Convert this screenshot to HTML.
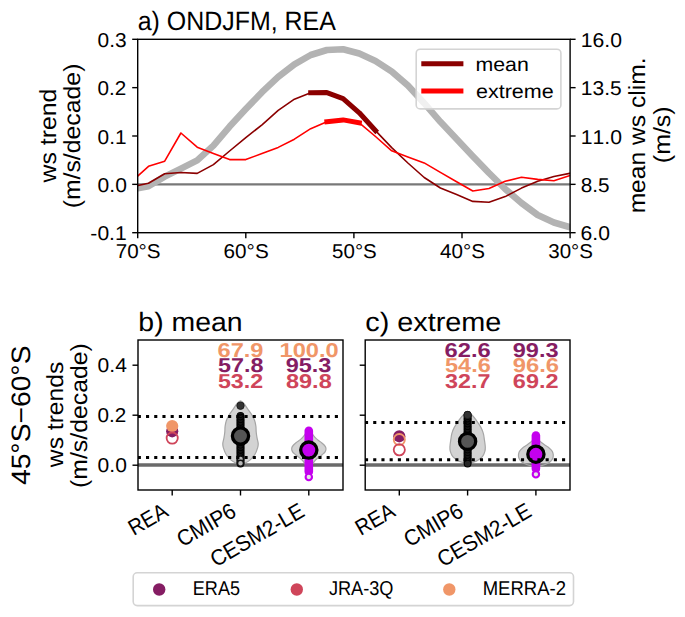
<!DOCTYPE html>
<html><head><meta charset="utf-8"><style>
html,body{margin:0;padding:0;background:#fff;overflow:hidden;}
svg{display:block;}
text{font-family:"Liberation Sans", sans-serif;font-kerning:none;text-rendering:geometricPrecision;}
</style></head><body>
<svg width="685" height="617" viewBox="0 0 685 617">
<rect x="0" y="0" width="685" height="617" fill="#fff"/>
<defs><clipPath id="ca"><rect x="137.7" y="39.3" width="432.4" height="193.4"/></clipPath></defs>
<g clip-path="url(#ca)">
<line x1="137.7" y1="184.35" x2="570.1" y2="184.35" stroke="#787878" stroke-width="2.3"/>
<polyline points="137.7,188.3 148.5,186.2 164.7,176.6 180.9,168.6 197.2,160.4 213.4,145.6 229.6,126.6 245.8,109.1 262.0,92.2 278.2,76.9 294.4,64.3 310.7,55.0 326.9,50.0 343.1,49.2 359.3,53.5 375.5,61.0 391.7,71.5 407.9,85.6 424.2,103.2 440.4,121.8 456.6,139.0 472.8,156.2 489.0,173.0 505.2,189.0 521.5,203.0 537.7,215.0 553.9,222.5 570.1,227.3" fill="none" stroke="#b3b3b3" stroke-width="6.6" stroke-linecap="square" stroke-linejoin="round"/>
<polyline points="137.7,185.5 148.5,183.3 164.7,173.8 180.9,172.5 197.2,173.4 213.4,164.6 229.6,151.0 245.8,137.6 262.0,124.8 278.2,110.4 294.4,99.2 310.7,92.7 326.9,92.6 343.1,98.6 359.3,112.8 375.5,130.6 391.7,147.6 407.9,163.0 424.2,177.5 440.4,188.0 456.6,194.6 472.8,201.4 489.0,202.2 505.2,196.6 521.5,188.1 537.7,181.3 553.9,176.5 570.1,173.3" fill="none" stroke="#8b0000" stroke-width="1.6" stroke-linejoin="round" stroke-linecap="square"/>
<polyline points="310.7,92.7 326.9,92.6 343.1,98.6 359.3,112.8 375.5,130.6" fill="none" stroke="#8b0000" stroke-width="5" stroke-linejoin="round" stroke-linecap="square"/>
<polyline points="137.7,176.0 148.5,166.3 164.7,161.2 180.9,133.0 197.2,147.2 213.4,153.6 229.6,159.6 245.8,159.6 262.0,153.5 278.2,147.4 294.4,139.2 310.7,128.7 326.9,121.8 343.1,119.9 359.3,122.8 375.5,136.5 391.7,150.8 407.9,156.9 424.2,162.9 440.4,172.4 456.6,181.8 472.8,191.0 489.0,188.5 505.2,181.3 521.5,177.3 537.7,179.4 553.9,180.8 570.1,175.4" fill="none" stroke="#ff0000" stroke-width="1.6" stroke-linejoin="round" stroke-linecap="square"/>
<polyline points="326.9,121.8 343.1,119.9 359.3,122.8" fill="none" stroke="#ff0000" stroke-width="5" stroke-linejoin="round" stroke-linecap="square"/>
</g>
<rect x="137.7" y="39.3" width="432.4" height="193.4" fill="none" stroke="#000" stroke-width="1.4"/>
<line x1="132.2" y1="39.30" x2="137.7" y2="39.30" stroke="#000" stroke-width="1.4"/>
<text x="97.63" y="46.80" font-size="19.98" textLength="29.03" lengthAdjust="spacingAndGlyphs">0.3</text>
<line x1="132.2" y1="87.65" x2="137.7" y2="87.65" stroke="#000" stroke-width="1.4"/>
<text x="97.63" y="95.15" font-size="19.98" textLength="28.75" lengthAdjust="spacingAndGlyphs">0.2</text>
<line x1="132.2" y1="136.00" x2="137.7" y2="136.00" stroke="#000" stroke-width="1.4"/>
<text x="97.63" y="143.50" font-size="19.98" textLength="28.93" lengthAdjust="spacingAndGlyphs">0.1</text>
<line x1="132.2" y1="184.35" x2="137.7" y2="184.35" stroke="#000" stroke-width="1.4"/>
<text x="97.62" y="191.85" font-size="19.98" textLength="29.24" lengthAdjust="spacingAndGlyphs">0.0</text>
<line x1="132.2" y1="232.70" x2="137.7" y2="232.70" stroke="#000" stroke-width="1.4"/>
<text x="90.39" y="240.20" font-size="19.98" textLength="36.26" lengthAdjust="spacingAndGlyphs">-0.1</text>
<line x1="570.1" y1="39.30" x2="575.6" y2="39.30" stroke="#000" stroke-width="1.4"/>
<text x="580.79" y="46.80" font-size="19.98" textLength="41.24" lengthAdjust="spacingAndGlyphs">16.0</text>
<line x1="570.1" y1="87.65" x2="575.6" y2="87.65" stroke="#000" stroke-width="1.4"/>
<text x="580.80" y="95.15" font-size="19.98" textLength="40.88" lengthAdjust="spacingAndGlyphs">13.5</text>
<line x1="570.1" y1="136.00" x2="575.6" y2="136.00" stroke="#000" stroke-width="1.4"/>
<text x="580.79" y="143.50" font-size="19.98" textLength="41.24" lengthAdjust="spacingAndGlyphs">11.0</text>
<line x1="570.1" y1="184.35" x2="575.6" y2="184.35" stroke="#000" stroke-width="1.4"/>
<text x="580.70" y="191.85" font-size="19.98" textLength="28.87" lengthAdjust="spacingAndGlyphs">8.5</text>
<line x1="570.1" y1="232.70" x2="575.6" y2="232.70" stroke="#000" stroke-width="1.4"/>
<text x="580.53" y="240.20" font-size="19.98" textLength="29.40" lengthAdjust="spacingAndGlyphs">6.0</text>
<line x1="137.70" y1="232.7" x2="137.70" y2="238.2" stroke="#000" stroke-width="1.4"/>
<text x="115.70" y="257.80" font-size="19.98" textLength="44.90" lengthAdjust="spacingAndGlyphs">70°S</text>
<line x1="245.80" y1="232.7" x2="245.80" y2="238.2" stroke="#000" stroke-width="1.4"/>
<text x="223.60" y="257.80" font-size="19.98" textLength="45.10" lengthAdjust="spacingAndGlyphs">60°S</text>
<line x1="353.90" y1="232.7" x2="353.90" y2="238.2" stroke="#000" stroke-width="1.4"/>
<text x="332.13" y="257.80" font-size="19.98" textLength="44.66" lengthAdjust="spacingAndGlyphs">50°S</text>
<line x1="462.00" y1="232.7" x2="462.00" y2="238.2" stroke="#000" stroke-width="1.4"/>
<text x="439.98" y="257.80" font-size="19.98" textLength="44.92" lengthAdjust="spacingAndGlyphs">40°S</text>
<line x1="570.10" y1="232.7" x2="570.10" y2="238.2" stroke="#000" stroke-width="1.4"/>
<text x="548.27" y="257.80" font-size="19.98" textLength="44.72" lengthAdjust="spacingAndGlyphs">30°S</text>
<text x="137.74" y="30.00" font-size="26.60" textLength="198.11" lengthAdjust="spacingAndGlyphs">a) ONDJFM, REA</text>
<text transform="rotate(-90)" x="-182.46" y="55.90" font-size="23.31" textLength="93.76" lengthAdjust="spacingAndGlyphs">ws trend</text>
<text transform="rotate(-90)" x="-208.39" y="80.20" font-size="23.31" textLength="144.78" lengthAdjust="spacingAndGlyphs">(m/s/decade)</text>
<text transform="rotate(-90)" x="-213.38" y="645.00" font-size="23.31" textLength="155.88" lengthAdjust="spacingAndGlyphs">mean ws clim.</text>
<text transform="rotate(-90)" x="-163.15" y="669.50" font-size="23.31" textLength="56.79" lengthAdjust="spacingAndGlyphs">(m/s)</text>
<rect x="416.2" y="49.2" width="144.7" height="59.7" rx="4" fill="#fff" fill-opacity="0.8" stroke="#d4d4d4" stroke-width="1.6"/>
<line x1="421.3" y1="63.7" x2="463.4" y2="63.7" stroke="#8b0000" stroke-width="5"/>
<line x1="421.3" y1="91.1" x2="463.4" y2="91.1" stroke="#ff0000" stroke-width="5"/>
<text x="475.49" y="70.60" font-size="19.52" textLength="53.30" lengthAdjust="spacingAndGlyphs">mean</text>
<text x="475.99" y="97.60" font-size="19.61" textLength="77.77" lengthAdjust="spacingAndGlyphs">extreme</text>
<defs><clipPath id="c138"><rect x="138.0" y="340" width="205.0" height="150"/></clipPath></defs>
<g clip-path="url(#c138)">
<line x1="138.0" y1="465.0" x2="343.0" y2="465.0" stroke="#6a6a6a" stroke-width="3.3"/>
<path d="M240.50,400.80 C239.33,400.80 238.23,402.27 237.00,403.70 C235.77,405.13 234.42,407.52 233.10,409.40 C231.78,411.28 230.23,413.12 229.10,415.00 C227.97,416.88 226.97,418.80 226.30,420.70 C225.63,422.60 225.35,424.52 225.10,426.40 C224.85,428.28 224.98,430.12 224.80,432.00 C224.62,433.88 224.33,435.80 224.00,437.70 C223.67,439.60 222.90,441.70 222.80,443.40 C222.70,445.10 222.82,446.00 223.40,447.90 C223.98,449.80 225.07,452.80 226.30,454.80 C227.53,456.80 229.30,458.58 230.80,459.90 C232.30,461.22 233.68,461.98 235.30,462.70 C236.92,463.42 238.77,464.20 240.50,464.20 C242.23,464.20 244.08,463.42 245.70,462.70 C247.32,461.98 248.70,461.22 250.20,459.90 C251.70,458.58 253.47,456.80 254.70,454.80 C255.93,452.80 257.02,449.80 257.60,447.90 C258.18,446.00 258.30,445.10 258.20,443.40 C258.10,441.70 257.33,439.60 257.00,437.70 C256.67,435.80 256.38,433.88 256.20,432.00 C256.02,430.12 256.15,428.28 255.90,426.40 C255.65,424.52 255.37,422.60 254.70,420.70 C254.03,418.80 253.03,416.88 251.90,415.00 C250.77,413.12 249.22,411.28 247.90,409.40 C246.58,407.52 245.23,405.13 244.00,403.70 C242.77,402.27 241.67,400.80 240.50,400.80Z" fill="#888888" fill-opacity="0.37" stroke="#a6a6a6" stroke-width="1.2"/>
<path d="M308.83,429.50 C307.97,429.50 306.98,431.53 306.23,432.50 C305.48,433.47 305.18,434.23 304.33,435.30 C303.48,436.37 302.33,437.80 301.13,438.90 C299.93,440.00 298.40,440.88 297.13,441.90 C295.87,442.92 294.43,443.97 293.53,445.00 C292.63,446.03 291.92,447.00 291.73,448.10 C291.55,449.20 291.80,450.50 292.43,451.60 C293.07,452.70 294.25,453.58 295.53,454.70 C296.82,455.82 298.85,457.20 300.13,458.30 C301.42,459.40 302.38,460.32 303.23,461.30 C304.08,462.28 304.30,463.22 305.23,464.20 C306.17,465.18 307.63,467.20 308.83,467.20 C310.03,467.20 311.50,465.18 312.43,464.20 C313.37,463.22 313.58,462.28 314.43,461.30 C315.28,460.32 316.25,459.40 317.53,458.30 C318.82,457.20 320.85,455.82 322.13,454.70 C323.42,453.58 324.60,452.70 325.23,451.60 C325.87,450.50 326.12,449.20 325.93,448.10 C325.75,447.00 325.03,446.03 324.13,445.00 C323.23,443.97 321.80,442.92 320.53,441.90 C319.27,440.88 317.73,440.00 316.53,438.90 C315.33,437.80 314.18,436.37 313.33,435.30 C312.48,434.23 312.18,433.47 311.43,432.50 C310.68,431.53 309.70,429.50 308.83,429.50Z" fill="#888888" fill-opacity="0.37" stroke="#a6a6a6" stroke-width="1.2"/>
<circle cx="240.5" cy="415.90" r="3.4" fill="#262626" stroke="#000" stroke-width="1.1"/><circle cx="240.5" cy="417.54" r="3.4" fill="#262626" stroke="#000" stroke-width="1.1"/><circle cx="240.5" cy="419.19" r="3.4" fill="#262626" stroke="#000" stroke-width="1.1"/><circle cx="240.5" cy="420.83" r="3.4" fill="#262626" stroke="#000" stroke-width="1.1"/><circle cx="240.5" cy="422.48" r="3.4" fill="#262626" stroke="#000" stroke-width="1.1"/><circle cx="240.5" cy="424.12" r="3.4" fill="#262626" stroke="#000" stroke-width="1.1"/><circle cx="240.5" cy="425.77" r="3.4" fill="#262626" stroke="#000" stroke-width="1.1"/><circle cx="240.5" cy="427.41" r="3.4" fill="#262626" stroke="#000" stroke-width="1.1"/><circle cx="240.5" cy="429.06" r="3.4" fill="#262626" stroke="#000" stroke-width="1.1"/><circle cx="240.5" cy="430.70" r="3.4" fill="#262626" stroke="#000" stroke-width="1.1"/><circle cx="240.5" cy="432.35" r="3.4" fill="#262626" stroke="#000" stroke-width="1.1"/><circle cx="240.5" cy="433.99" r="3.4" fill="#262626" stroke="#000" stroke-width="1.1"/><circle cx="240.5" cy="435.64" r="3.4" fill="#262626" stroke="#000" stroke-width="1.1"/><circle cx="240.5" cy="437.28" r="3.4" fill="#262626" stroke="#000" stroke-width="1.1"/><circle cx="240.5" cy="438.93" r="3.4" fill="#262626" stroke="#000" stroke-width="1.1"/><circle cx="240.5" cy="440.57" r="3.4" fill="#262626" stroke="#000" stroke-width="1.1"/><circle cx="240.5" cy="442.22" r="3.4" fill="#262626" stroke="#000" stroke-width="1.1"/><circle cx="240.5" cy="443.86" r="3.4" fill="#262626" stroke="#000" stroke-width="1.1"/><circle cx="240.5" cy="445.51" r="3.4" fill="#262626" stroke="#000" stroke-width="1.1"/><circle cx="240.5" cy="447.15" r="3.4" fill="#262626" stroke="#000" stroke-width="1.1"/><circle cx="240.5" cy="448.80" r="3.4" fill="#262626" stroke="#000" stroke-width="1.1"/><circle cx="240.5" cy="450.44" r="3.4" fill="#262626" stroke="#000" stroke-width="1.1"/><circle cx="240.5" cy="452.09" r="3.4" fill="#262626" stroke="#000" stroke-width="1.1"/><circle cx="240.5" cy="453.73" r="3.4" fill="#262626" stroke="#000" stroke-width="1.1"/><circle cx="240.5" cy="455.38" r="3.4" fill="#262626" stroke="#000" stroke-width="1.1"/><circle cx="240.5" cy="457.02" r="3.4" fill="#262626" stroke="#000" stroke-width="1.1"/><circle cx="240.5" cy="458.67" r="3.4" fill="#262626" stroke="#000" stroke-width="1.1"/><circle cx="240.5" cy="460.31" r="3.4" fill="#262626" stroke="#000" stroke-width="1.1"/><circle cx="240.5" cy="461.96" r="3.4" fill="#262626" stroke="#000" stroke-width="1.1"/><circle cx="240.5" cy="463.60" r="3.4" fill="#262626" stroke="#000" stroke-width="1.1"/><circle cx="240.5" cy="459.00" r="3.0" fill="#b8b8b8" stroke="#111" stroke-width="1.5"/><circle cx="240.5" cy="463.20" r="3.0" fill="#b8b8b8" stroke="#111" stroke-width="1.5"/><circle cx="240.5" cy="405.7" r="3.7" fill="#333" stroke="#1a1a1a" stroke-width="0.9"/>
<rect x="304.5" y="426.5" width="8.6" height="49.5" rx="4.3" fill="#c400ee"/><circle cx="308.8" cy="477.0" r="3.2" fill="#e6e6e6" stroke="#c400ee" stroke-width="2.1"/>
<circle cx="172.2" cy="431.3" r="6.1" fill="#851d63"/>
<circle cx="172.2" cy="426.0" r="6.1" fill="#f09668"/>
<circle cx="172.2" cy="438.1" r="5.6" fill="none" stroke="#cf455a" stroke-width="1.8"/>
<circle cx="240.5" cy="436.0" r="8.1" fill="#555" stroke="#000" stroke-width="3.3"/>
<circle cx="308.8" cy="450.1" r="8.1" fill="#c400ee" stroke="#000" stroke-width="3.3"/>
<line x1="137.8" y1="416.6" x2="343.0" y2="416.6" stroke="#000" stroke-width="3.0" stroke-dasharray="3.1 5.11"/>
<line x1="137.8" y1="457.6" x2="343.0" y2="457.6" stroke="#000" stroke-width="3.0" stroke-dasharray="3.1 5.11"/>
</g>
<rect x="138.0" y="340" width="205.0" height="150" fill="none" stroke="#000" stroke-width="1.4"/>
<line x1="132.5" y1="365.2" x2="138.0" y2="365.2" stroke="#000" stroke-width="1.4"/>
<text x="97.62" y="372.40" font-size="19.98" textLength="29.24" lengthAdjust="spacingAndGlyphs">0.4</text>
<line x1="132.5" y1="415.2" x2="138.0" y2="415.2" stroke="#000" stroke-width="1.4"/>
<text x="97.63" y="422.40" font-size="19.98" textLength="28.75" lengthAdjust="spacingAndGlyphs">0.2</text>
<line x1="132.5" y1="465.2" x2="138.0" y2="465.2" stroke="#000" stroke-width="1.4"/>
<text x="97.62" y="472.40" font-size="19.98" textLength="29.24" lengthAdjust="spacingAndGlyphs">0.0</text>
<line x1="172.2" y1="490" x2="172.2" y2="495.5" stroke="#000" stroke-width="1.4"/>
<text transform="translate(169.70,515.2) rotate(-30)" x="-41.57" y="0.00" font-size="22.15" textLength="41.39" lengthAdjust="spacingAndGlyphs">REA</text>
<line x1="240.5" y1="490" x2="240.5" y2="495.5" stroke="#000" stroke-width="1.4"/>
<text transform="translate(238.03,515.2) rotate(-30)" x="-64.56" y="0.00" font-size="22.15" textLength="64.19" lengthAdjust="spacingAndGlyphs">CMIP6</text>
<line x1="308.8" y1="490" x2="308.8" y2="495.5" stroke="#000" stroke-width="1.4"/>
<text transform="translate(306.36,515.2) rotate(-30)" x="-104.64" y="0.00" font-size="22.15" textLength="104.25" lengthAdjust="spacingAndGlyphs">CESM2-LE</text>
<text x="138.37" y="331.20" font-size="26.60" textLength="104.17" lengthAdjust="spacingAndGlyphs">b) mean</text>
<text x="217.52" y="356.65" font-size="19.98" font-weight="bold" fill="#f09668" textLength="45.94" lengthAdjust="spacingAndGlyphs">67.9</text>
<text x="217.97" y="372.10" font-size="19.98" font-weight="bold" fill="#851d63" textLength="45.44" lengthAdjust="spacingAndGlyphs">57.8</text>
<text x="217.97" y="387.55" font-size="19.98" font-weight="bold" fill="#cf455a" textLength="45.14" lengthAdjust="spacingAndGlyphs">53.2</text>
<text x="279.55" y="356.65" font-size="19.98" font-weight="bold" fill="#f09668" textLength="59.16" lengthAdjust="spacingAndGlyphs">100.0</text>
<text x="285.70" y="372.10" font-size="19.98" font-weight="bold" fill="#851d63" textLength="45.76" lengthAdjust="spacingAndGlyphs">95.3</text>
<text x="285.97" y="387.55" font-size="19.98" font-weight="bold" fill="#cf455a" textLength="45.77" lengthAdjust="spacingAndGlyphs">89.8</text>
<defs><clipPath id="c365"><rect x="365.2" y="340" width="204.8" height="150"/></clipPath></defs>
<g clip-path="url(#c365)">
<line x1="365.2" y1="465.0" x2="570.0" y2="465.0" stroke="#6a6a6a" stroke-width="3.3"/>
<path d="M467.60,412.50 C466.07,412.50 464.48,413.95 463.00,415.30 C461.52,416.65 460.15,418.58 458.70,420.60 C457.25,422.62 455.43,425.28 454.30,427.40 C453.17,429.52 452.47,431.35 451.90,433.30 C451.33,435.25 451.23,436.83 450.90,439.10 C450.57,441.37 449.98,444.80 449.90,446.90 C449.82,449.00 449.92,450.08 450.40,451.70 C450.88,453.32 451.58,455.13 452.80,456.60 C454.02,458.07 456.08,459.53 457.70,460.50 C459.32,461.47 460.85,461.88 462.50,462.40 C464.15,462.92 465.90,463.60 467.60,463.60 C469.30,463.60 471.05,462.92 472.70,462.40 C474.35,461.88 475.88,461.47 477.50,460.50 C479.12,459.53 481.18,458.07 482.40,456.60 C483.62,455.13 484.32,453.32 484.80,451.70 C485.28,450.08 485.38,449.00 485.30,446.90 C485.22,444.80 484.63,441.37 484.30,439.10 C483.97,436.83 483.87,435.25 483.30,433.30 C482.73,431.35 482.03,429.52 480.90,427.40 C479.77,425.28 477.95,422.62 476.50,420.60 C475.05,418.58 473.68,416.65 472.20,415.30 C470.72,413.95 469.13,412.50 467.60,412.50Z" fill="#888888" fill-opacity="0.37" stroke="#a6a6a6" stroke-width="1.2"/>
<path d="M535.87,438.30 C534.30,438.30 532.65,440.58 531.17,441.70 C529.68,442.82 528.43,443.92 526.97,445.00 C525.50,446.08 523.62,447.13 522.37,448.20 C521.12,449.27 520.12,450.32 519.47,451.40 C518.82,452.48 518.57,453.62 518.47,454.70 C518.37,455.78 518.43,456.82 518.87,457.90 C519.30,458.98 520.05,460.22 521.07,461.20 C522.08,462.18 523.45,463.05 524.97,463.80 C526.48,464.55 528.60,465.25 530.17,465.70 C531.73,466.15 533.42,466.32 534.37,466.50 C535.32,466.68 535.37,466.80 535.87,466.80 C536.37,466.80 536.42,466.68 537.37,466.50 C538.32,466.32 540.00,466.15 541.57,465.70 C543.13,465.25 545.25,464.55 546.77,463.80 C548.28,463.05 549.65,462.18 550.67,461.20 C551.68,460.22 552.43,458.98 552.87,457.90 C553.30,456.82 553.37,455.78 553.27,454.70 C553.17,453.62 552.92,452.48 552.27,451.40 C551.62,450.32 550.62,449.27 549.37,448.20 C548.12,447.13 546.23,446.08 544.77,445.00 C543.30,443.92 542.05,442.82 540.57,441.70 C539.08,440.58 537.43,438.30 535.87,438.30Z" fill="#888888" fill-opacity="0.37" stroke="#a6a6a6" stroke-width="1.2"/>
<circle cx="467.6" cy="414.90" r="3.4" fill="#262626" stroke="#000" stroke-width="1.1"/><circle cx="467.6" cy="416.52" r="3.4" fill="#262626" stroke="#000" stroke-width="1.1"/><circle cx="467.6" cy="418.15" r="3.4" fill="#262626" stroke="#000" stroke-width="1.1"/><circle cx="467.6" cy="419.77" r="3.4" fill="#262626" stroke="#000" stroke-width="1.1"/><circle cx="467.6" cy="421.39" r="3.4" fill="#262626" stroke="#000" stroke-width="1.1"/><circle cx="467.6" cy="423.02" r="3.4" fill="#262626" stroke="#000" stroke-width="1.1"/><circle cx="467.6" cy="424.64" r="3.4" fill="#262626" stroke="#000" stroke-width="1.1"/><circle cx="467.6" cy="426.26" r="3.4" fill="#262626" stroke="#000" stroke-width="1.1"/><circle cx="467.6" cy="427.89" r="3.4" fill="#262626" stroke="#000" stroke-width="1.1"/><circle cx="467.6" cy="429.51" r="3.4" fill="#262626" stroke="#000" stroke-width="1.1"/><circle cx="467.6" cy="431.13" r="3.4" fill="#262626" stroke="#000" stroke-width="1.1"/><circle cx="467.6" cy="432.76" r="3.4" fill="#262626" stroke="#000" stroke-width="1.1"/><circle cx="467.6" cy="434.38" r="3.4" fill="#262626" stroke="#000" stroke-width="1.1"/><circle cx="467.6" cy="436.00" r="3.4" fill="#262626" stroke="#000" stroke-width="1.1"/><circle cx="467.6" cy="437.63" r="3.4" fill="#262626" stroke="#000" stroke-width="1.1"/><circle cx="467.6" cy="439.25" r="3.4" fill="#262626" stroke="#000" stroke-width="1.1"/><circle cx="467.6" cy="440.87" r="3.4" fill="#262626" stroke="#000" stroke-width="1.1"/><circle cx="467.6" cy="442.50" r="3.4" fill="#262626" stroke="#000" stroke-width="1.1"/><circle cx="467.6" cy="444.12" r="3.4" fill="#262626" stroke="#000" stroke-width="1.1"/><circle cx="467.6" cy="445.74" r="3.4" fill="#262626" stroke="#000" stroke-width="1.1"/><circle cx="467.6" cy="447.37" r="3.4" fill="#262626" stroke="#000" stroke-width="1.1"/><circle cx="467.6" cy="448.99" r="3.4" fill="#262626" stroke="#000" stroke-width="1.1"/><circle cx="467.6" cy="450.61" r="3.4" fill="#262626" stroke="#000" stroke-width="1.1"/><circle cx="467.6" cy="452.24" r="3.4" fill="#262626" stroke="#000" stroke-width="1.1"/><circle cx="467.6" cy="453.86" r="3.4" fill="#262626" stroke="#000" stroke-width="1.1"/><circle cx="467.6" cy="455.48" r="3.4" fill="#262626" stroke="#000" stroke-width="1.1"/><circle cx="467.6" cy="457.11" r="3.4" fill="#262626" stroke="#000" stroke-width="1.1"/><circle cx="467.6" cy="458.73" r="3.4" fill="#262626" stroke="#000" stroke-width="1.1"/><circle cx="467.6" cy="460.35" r="3.4" fill="#262626" stroke="#000" stroke-width="1.1"/><circle cx="467.6" cy="461.98" r="3.4" fill="#262626" stroke="#000" stroke-width="1.1"/><circle cx="467.6" cy="463.60" r="3.4" fill="#262626" stroke="#000" stroke-width="1.1"/><circle cx="467.6" cy="415.0" r="3.7" fill="#333" stroke="#1a1a1a" stroke-width="0.9"/>
<rect x="531.6" y="431.3" width="8.6" height="41.69999999999999" rx="4.3" fill="#c400ee"/><circle cx="535.9" cy="474.3" r="3.2" fill="#e6e6e6" stroke="#c400ee" stroke-width="2.1"/>
<circle cx="399.3" cy="436.3" r="6.1" fill="#851d63"/>
<circle cx="399.3" cy="439.6" r="5.6" fill="none" stroke="#f09668" stroke-width="1.8"/>
<circle cx="399.3" cy="449.8" r="5.6" fill="none" stroke="#cf455a" stroke-width="1.8"/>
<circle cx="467.6" cy="441.4" r="8.1" fill="#555" stroke="#000" stroke-width="3.3"/>
<circle cx="535.9" cy="454.2" r="8.1" fill="#c400ee" stroke="#000" stroke-width="3.3"/>
<line x1="365.0" y1="422.6" x2="570.0" y2="422.6" stroke="#000" stroke-width="3.0" stroke-dasharray="3.1 5.11"/>
<line x1="365.0" y1="459.8" x2="570.0" y2="459.8" stroke="#000" stroke-width="3.0" stroke-dasharray="3.1 5.11"/>
</g>
<rect x="365.2" y="340" width="204.8" height="150" fill="none" stroke="#000" stroke-width="1.4"/>
<line x1="359.7" y1="365.2" x2="365.2" y2="365.2" stroke="#000" stroke-width="1.4"/>
<line x1="359.7" y1="415.2" x2="365.2" y2="415.2" stroke="#000" stroke-width="1.4"/>
<line x1="359.7" y1="465.2" x2="365.2" y2="465.2" stroke="#000" stroke-width="1.4"/>
<line x1="399.3" y1="490" x2="399.3" y2="495.5" stroke="#000" stroke-width="1.4"/>
<text transform="translate(396.86,515.2) rotate(-30)" x="-41.57" y="0.00" font-size="22.15" textLength="41.39" lengthAdjust="spacingAndGlyphs">REA</text>
<line x1="467.6" y1="490" x2="467.6" y2="495.5" stroke="#000" stroke-width="1.4"/>
<text transform="translate(465.13,515.2) rotate(-30)" x="-64.56" y="0.00" font-size="22.15" textLength="64.19" lengthAdjust="spacingAndGlyphs">CMIP6</text>
<line x1="535.9" y1="490" x2="535.9" y2="495.5" stroke="#000" stroke-width="1.4"/>
<text transform="translate(533.40,515.2) rotate(-30)" x="-104.64" y="0.00" font-size="22.15" textLength="104.25" lengthAdjust="spacingAndGlyphs">CESM2-LE</text>
<text x="365.28" y="331.20" font-size="26.60" textLength="136.10" lengthAdjust="spacingAndGlyphs">c) extreme</text>
<text x="444.62" y="356.65" font-size="19.98" font-weight="bold" fill="#851d63" textLength="46.12" lengthAdjust="spacingAndGlyphs">62.6</text>
<text x="445.06" y="372.10" font-size="19.98" font-weight="bold" fill="#f09668" textLength="45.67" lengthAdjust="spacingAndGlyphs">54.6</text>
<text x="445.05" y="387.55" font-size="19.98" font-weight="bold" fill="#cf455a" textLength="45.36" lengthAdjust="spacingAndGlyphs">32.7</text>
<text x="512.74" y="356.65" font-size="19.98" font-weight="bold" fill="#851d63" textLength="45.76" lengthAdjust="spacingAndGlyphs">99.3</text>
<text x="512.73" y="372.10" font-size="19.98" font-weight="bold" fill="#f09668" textLength="46.28" lengthAdjust="spacingAndGlyphs">96.6</text>
<text x="512.89" y="387.55" font-size="19.98" font-weight="bold" fill="#cf455a" textLength="45.60" lengthAdjust="spacingAndGlyphs">69.2</text>
<text transform="rotate(-90)" x="-485.05" y="30.00" font-size="26.60" textLength="139.54" lengthAdjust="spacingAndGlyphs">45°S−60°S</text>
<text transform="rotate(-90)" x="-467.16" y="62.80" font-size="23.31" textLength="105.45" lengthAdjust="spacingAndGlyphs">ws trends</text>
<text transform="rotate(-90)" x="-487.99" y="87.10" font-size="23.31" textLength="144.78" lengthAdjust="spacingAndGlyphs">(m/s/decade)</text>
<rect x="133.2" y="572.8" width="440.3" height="32.8" rx="4" fill="#fff" stroke="#d4d4d4" stroke-width="1.6"/>
<circle cx="159.2" cy="589.5" r="6.2" fill="#851d63"/>
<text x="192.82" y="594.60" font-size="19.98" textLength="47.24" lengthAdjust="spacingAndGlyphs">ERA5</text>
<circle cx="296.8" cy="589.5" r="6.2" fill="#cf455a"/>
<text x="328.92" y="594.60" font-size="19.98" textLength="64.55" lengthAdjust="spacingAndGlyphs">JRA-3Q</text>
<circle cx="449.3" cy="589.5" r="6.2" fill="#f09668"/>
<text x="482.68" y="594.60" font-size="19.98" textLength="83.25" lengthAdjust="spacingAndGlyphs">MERRA-2</text>
</svg></body></html>
